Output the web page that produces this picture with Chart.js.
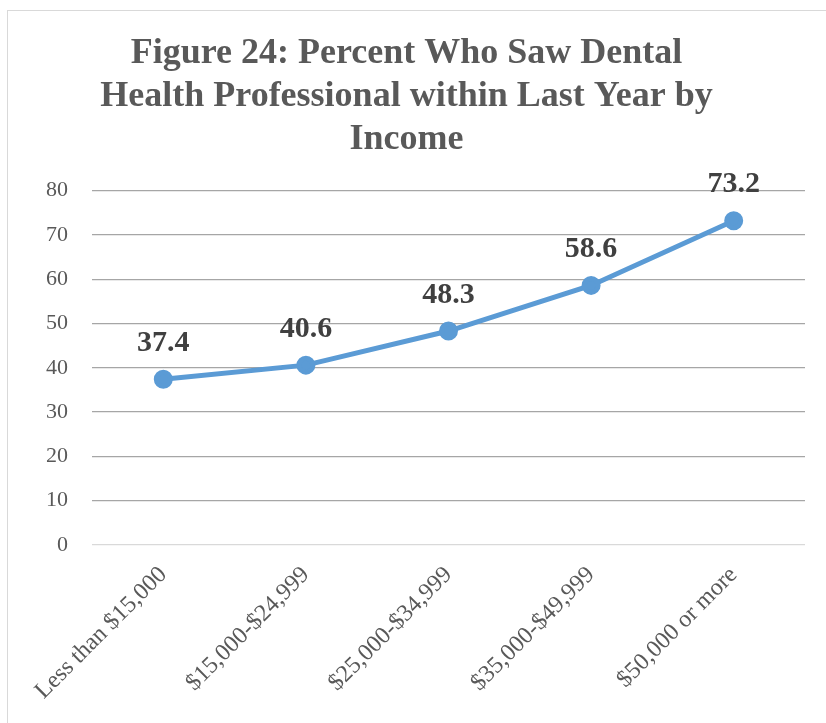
<!DOCTYPE html>
<html lang="en">
<head>
    <meta charset="UTF-8">
    <title>Dental visits by income</title>
    <style>
        html, body { margin: 0; padding: 0; background: #fff; }
        body { width: 826px; height: 723px; overflow: hidden; position: relative; }
        #box {
            position: absolute;
            left: 7px;
            top: 10px;
            width: 830px;
            height: 730px;
            border: 1px solid #d9d9d9;
            box-sizing: border-box;
        }
        #wrap { position: absolute; left: 8px; top: 11px; width: 818px; height: 712px; }
    </style>
</head>
<body>
    <div id="box"></div>
    <div id="wrap"><canvas id="myChart" width="818" height="712"></canvas></div>

    <script src="https://cdn.jsdelivr.net/npm/chart.js"></script>
    <script>
    "use strict"

    const income_groups = ["Less than $15,000", "$15,000-$24,999", "$25,000-$34,999", "$35,000-$49,999", "$50,000 or more"]
    const percent_saw_dentist = [37.4, 40.6, 48.3, 58.6, 73.2]
    const y_ticks = [0, 10, 20, 30, 40, 50, 60, 70, 80]

    const serif = "'Liberation Serif', 'DejaVu Serif', serif"

    // value labels drawn above each point
    const valueLabels = {
        id: "valueLabels",
        afterDatasetsDraw(chart) {
            const c = chart.ctx
            const meta = chart.getDatasetMeta(0)
            c.save()
            c.font = "bold 30px " + serif
            c.fillStyle = "#404040"
            c.textAlign = "center"
            c.textBaseline = "middle"
            meta.data.forEach((pt, i) => {
                c.fillText(percent_saw_dentist[i].toFixed(1), pt.x, pt.y - 36)
            })
            c.restore()
        }
    }

    const ctx = document.getElementById("myChart")

    let graph = new Chart(ctx, {
        type: "line",
        data: {
            labels: income_groups,
            datasets: [{
                data: percent_saw_dentist,
                borderColor: "#5b9bd5",
                backgroundColor: "#5b9bd5",
                borderWidth: 5,
                pointRadius: 7,
                pointHoverRadius: 7,
                tension: 0
            }]
        },
        options: {
            responsive: false,
            animation: false,
            layout: {
                padding: { left: 0, right: 21, top: 0, bottom: 0 }
            },
            plugins: {
                legend: { display: false },
                tooltip: { enabled: false },
                title: {
                    display: true,
                    text: ["Figure 24: Percent Who Saw Dental", "Health Professional within Last Year by", "Income"],
                    color: "#595959",
                    font: { family: serif, size: 36, weight: "bold", lineHeight: 1.2 },
                    padding: { top: 21, bottom: 29 }
                }
            },
            scales: {
                y: {
                    min: 0,
                    max: 80,
                    afterFit(scale) { scale.width = 84 },
                    afterBuildTicks(scale) { scale.ticks = y_ticks.map(v => ({ value: v })) },
                    border: { display: false },
                    grid: {
                        drawTicks: false,
                        color: ctx => ctx.tick.value === 0 ? "#d9d9d9" : "#a6a6a6",
                        lineWidth: 1.3
                    },
                    ticks: {
                        padding: 24,
                        color: "#595959",
                        font: { family: serif, size: 22 }
                    }
                },
                x: {
                    offset: true,
                    afterFit(scale) { scale.height = 178 },
                    border: { display: false },
                    grid: { display: false, drawTicks: false },
                    ticks: {
                        minRotation: 45,
                        maxRotation: 45,
                        padding: 16,
                        color: "#595959",
                        font: { family: serif, size: 24 }
                    }
                }
            }
        },
        plugins: [valueLabels]
    })
    </script>
</body>
</html>
